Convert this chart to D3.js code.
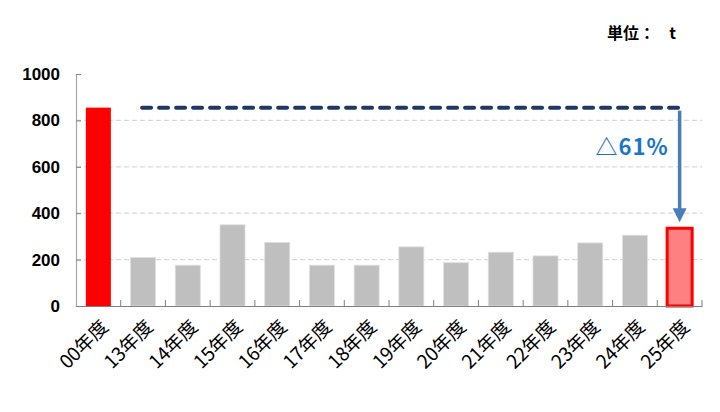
<!DOCTYPE html>
<html>
<head>
<meta charset="utf-8">
<script src="https://cdn.jsdelivr.net/npm/d3@7"></script>
<style>
  body { margin: 0; background: #fff; }
  svg { display: block; }
</style>
</head>
<body>
<div id="chart"></div>
<script>
// Data
const categories = ["00年度", "13年度", "14年度", "15年度", "16年度", "17年度", "18年度",
  "19年度", "20年度", "21年度", "22年度", "23年度", "24年度", "25年度"];
const values = [855, 209, 176, 350, 274, 176, 176, 255, 187, 232, 216, 272, 305, 335];
const yTicks = [0, 200, 400, 600, 800, 1000];
const gridTicks = [200, 400, 600, 800];
const baseValue = 855;
const reductionLabel = "△61%";
const unitLabel = "単位：";
const unitSymbol = "t";

const width = 720, height = 412;
const plotLeft = 76, plotRight = 702, plotTop = 74, plotBottom = 306;

const svg = d3.select("#chart").append("svg")
  .attr("width", width)
  .attr("height", height);

const x = d3.scaleBand()
  .domain(categories)
  .range([plotLeft, plotRight])
  .paddingInner(0.44)
  .paddingOuter(0.22);

const y = d3.scaleLinear()
  .domain([0, 1000])
  .range([plotBottom, plotTop]);

// Gridlines
svg.append("g")
  .selectAll("line")
  .data(gridTicks)
  .join("line")
  .attr("x1", plotLeft)
  .attr("x2", plotRight)
  .attr("y1", d => y(d))
  .attr("y2", d => y(d))
  .attr("stroke", "#d9d9d9")
  .attr("stroke-width", 1.3)
  .attr("stroke-dasharray", "5,3");

// Bars
const last = values.length - 1;
svg.append("g")
  .selectAll("rect")
  .data(values)
  .join("rect")
  .attr("x", (d, i) => x(categories[i]))
  .attr("y", d => y(d))
  .attr("width", x.bandwidth())
  .attr("height", d => y(0) - y(d))
  .attr("fill", (d, i) => i === 0 ? "#ff0000" : (i === last ? "#ff8080" : "#bfbfbf"))
  .attr("stroke", (d, i) => i === 0 ? "none" : (i === last ? "#ff0000" : "#e0e0e0"))
  .attr("stroke-width", (d, i) => i === last ? 3 : 0.8);

// Y axis
const yAxis = svg.append("g")
  .attr("transform", `translate(${plotLeft},0)`)
  .call(d3.axisLeft(y).tickValues(yTicks).tickFormat(d3.format("d")).tickSize(-5).tickPadding(16));
yAxis.select(".domain").attr("stroke", "#a6a6a6").attr("stroke-width", 1.2);
yAxis.selectAll(".tick line").attr("stroke", "#808080");
yAxis.selectAll("text")
  .attr("font-family", "'Liberation Sans', Arial, sans-serif")
  .attr("font-size", 17)
  .attr("font-weight", "bold")
  .attr("fill", "#000");

// X axis
const xAxis = svg.append("g")
  .attr("transform", `translate(0,${plotBottom})`)
  .call(d3.axisBottom(x).tickSize(0).tickFormat(""));
xAxis.select(".domain").attr("stroke", "#7f7f7f").attr("stroke-width", 1.2);

// Category separator ticks (pointing up)
svg.append("g")
  .selectAll("line")
  .data(d3.range(1, categories.length + 1))
  .join("line")
  .attr("x1", i => plotLeft + i * x.step())
  .attr("x2", i => plotLeft + i * x.step())
  .attr("y1", plotBottom)
  .attr("y2", plotBottom - 6)
  .attr("stroke", "#7f7f7f")
  .attr("stroke-width", 1);

// X labels rotated
svg.append("g")
  .selectAll("text")
  .data(categories)
  .join("text")
  .attr("transform", d => `translate(${x(d) + x.bandwidth() / 2 + 1},${plotBottom + 12}) rotate(-45)`)
  .attr("text-anchor", "end")
  .attr("dy", "0.75em")
  .attr("font-family", "'Noto Sans CJK JP', sans-serif")
  .attr("font-size", 19)
  .attr("fill", "#000")
  .text(d => d);

// Dashed baseline from 00年度 level
const arrowX = x(categories[last]) + x.bandwidth() / 2;
svg.append("line")
  .attr("x1", x(categories[1]) + x.bandwidth() / 2 - 1)
  .attr("x2", arrowX)
  .attr("y1", y(baseValue))
  .attr("y2", y(baseValue))
  .attr("stroke", "#1f3864")
  .attr("stroke-width", 4)
  .attr("stroke-linecap", "round")
  .attr("stroke-dasharray", "9,8");

// Arrow
const arrowTop = y(baseValue) + 3;
const arrowBottom = y(values[last]) - 6;
svg.append("line")
  .attr("x1", arrowX)
  .attr("x2", arrowX)
  .attr("y1", arrowTop)
  .attr("y2", arrowBottom - 12)
  .attr("stroke", "#4a7ebb")
  .attr("stroke-width", 3.5);
svg.append("path")
  .attr("d", `M${arrowX - 7},${arrowBottom - 14} L${arrowX + 7},${arrowBottom - 14} L${arrowX},${arrowBottom} Z`)
  .attr("fill", "#4a7ebb");

// Reduction label
svg.append("text")
  .attr("x", arrowX - 11)
  .attr("y", 155)
  .attr("text-anchor", "end")
  .attr("font-family", "'Noto Sans CJK JP', sans-serif")
  .attr("font-size", 22)
  .attr("font-weight", "bold")
  .attr("letter-spacing", 1)
  .attr("fill", "#1a75c9")
  .text(reductionLabel);

// Unit label
svg.append("text")
  .attr("x", 607)
  .attr("y", 39)
  .attr("font-family", "'Noto Sans CJK JP', sans-serif")
  .attr("font-size", 16)
  .attr("font-weight", "bold")
  .attr("fill", "#000")
  .text(unitLabel);
svg.append("text")
  .attr("x", 676)
  .attr("y", 39)
  .attr("text-anchor", "end")
  .attr("font-family", "'Noto Sans CJK JP', sans-serif")
  .attr("font-size", 16)
  .attr("font-weight", "bold")
  .attr("fill", "#000")
  .text(unitSymbol);
</script>
</body>
</html>
